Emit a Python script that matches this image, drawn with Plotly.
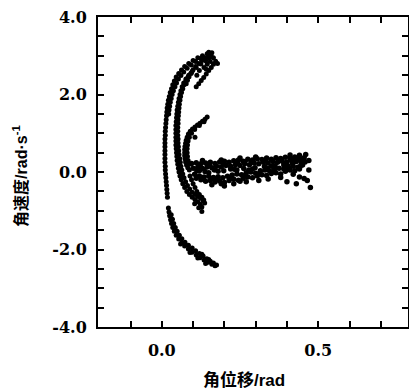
import plotly.graph_objects as go

# ---- data (angular displacement rad, angular velocity rad/s) ----
outer_arc = [
    (0.150, 3.09), (0.145, 3.05), (0.130, 3.00), (0.115, 2.95), (0.100, 2.88), (0.086, 2.80),
    (0.073, 2.72), (0.063, 2.63), (0.054, 2.54), (0.046, 2.45), (0.040, 2.35),
    (0.035, 2.25), (0.031, 2.15), (0.027, 2.05), (0.024, 1.95), (0.021, 1.85),
    (0.019, 1.75), (0.017, 1.65), (0.016, 1.55), (0.015, 1.45), (0.014, 1.35),
    (0.013, 1.25), (0.012, 1.15), (0.011, 1.05), (0.011, 0.95), (0.010, 0.85),
    (0.010, 0.75), (0.010, 0.65), (0.010, 0.55), (0.010, 0.45), (0.010, 0.35),
    (0.010, 0.25), (0.011, 0.15), (0.011, 0.05), (0.012, -0.05), (0.013, -0.15),
    (0.014, -0.25), (0.015, -0.35), (0.016, -0.45), (0.017, -0.55), (0.018, -0.65),
    (0.021, -0.93), (0.023, -1.03), (0.025, -1.13), (0.028, -1.23), (0.031, -1.33),
    (0.035, -1.43), (0.040, -1.53), (0.046, -1.63), (0.054, -1.73), (0.063, -1.83),
    (0.073, -1.91), (0.085, -1.99), (0.097, -2.07), (0.110, -2.14), (0.122, -2.21),
    (0.135, -2.27), (0.148, -2.33), (0.160, -2.38), (0.170, -2.42),
]
outer_arc_inner = [
    (0.125, 2.93), (0.108, 2.85), (0.094, 2.76), (0.081, 2.68), (0.070, 2.58),
    (0.061, 2.49), (0.053, 2.40), (0.047, 2.30), (0.042, 2.20), (0.037, 2.10),
    (0.033, 2.00), (0.030, 1.90), (0.027, 1.80), (0.025, 1.70), (0.023, 1.60),
    (0.022, 1.50), (0.030, -1.10), (0.034, -1.22), (0.038, -1.33), (0.043, -1.43),
    (0.049, -1.53), (0.056, -1.63), (0.064, -1.72), (0.074, -1.81), (0.085, -1.89),
    (0.097, -1.96), (0.108, -2.03), (0.120, -2.10), (0.132, -2.17), (0.144, -2.24),
    (0.155, -2.30), (0.165, -2.35), (0.175, -2.40), (0.090, -2.08), (0.140, -2.36),
    (0.060, -1.86), (0.115, -2.22), (0.150, -2.26), (0.128, -2.12),
]
middle_arc = [
    (0.150, 2.95), (0.140, 2.87), (0.125, 2.79), (0.110, 2.70), (0.097, 2.60),
    (0.086, 2.50), (0.077, 2.40), (0.070, 2.30), (0.065, 2.20), (0.061, 2.10),
    (0.058, 2.00), (0.055, 1.90), (0.053, 1.80), (0.051, 1.70), (0.049, 1.60),
    (0.048, 1.50), (0.047, 1.40), (0.046, 1.30), (0.045, 1.20), (0.045, 1.10),
    (0.045, 1.00), (0.045, 0.90), (0.045, 0.80), (0.045, 0.70), (0.046, 0.60),
    (0.047, 0.50), (0.048, 0.40), (0.049, 0.30), (0.051, 0.20), (0.053, 0.10),
    (0.055, 0.00), (0.058, -0.10), (0.062, -0.20), (0.067, -0.30), (0.073, -0.40),
    (0.080, -0.50), (0.088, -0.58), (0.097, -0.65), (0.106, -0.71), (0.115, -0.77),
    (0.123, -0.83), (0.128, -0.90),
]
middle_arc_inner = [
    (0.094, 2.55), (0.084, 2.45), (0.077, 2.35), (0.071, 2.25), (0.067, 2.15),
    (0.063, 2.05), (0.060, 1.95), (0.058, 1.85), (0.056, 1.75), (0.055, 1.65),
    (0.054, 1.55), (0.053, 1.45), (0.052, 1.35), (0.052, 1.25), (0.051, 1.15),
    (0.051, 1.05), (0.051, 0.95), (0.052, 0.85), (0.052, 0.75), (0.053, 0.65),
    (0.054, 0.55), (0.055, 0.45), (0.057, 0.35), (0.059, 0.25), (0.061, 0.15),
    (0.064, 0.05), (0.067, -0.05), (0.071, -0.15), (0.076, -0.25), (0.082, -0.35),
    (0.089, -0.44), (0.097, -0.52), (0.106, -0.58), (0.115, -0.63), (0.124, -0.68),
    (0.132, -0.74), (0.090, -0.10), (0.095, -0.20), (0.100, -0.30), (0.106, -0.40),
    (0.112, -0.50), (0.120, -0.58), (0.128, -0.65), (0.134, -0.72), (0.137, -0.80),
    (0.118, -0.92), (0.128, -1.02), (0.105, -0.82),
]
top_strands = [
    (0.172, 2.86), (0.165, 2.78), (0.158, 2.70), (0.150, 2.62), (0.142, 2.53),
    (0.134, 2.44), (0.126, 2.36), (0.118, 2.28), (0.110, 2.20), (0.160, 3.08),
    (0.150, 3.02), (0.138, 2.95), (0.128, 2.88), (0.118, 2.80), (0.108, 2.72),
    (0.100, 2.64), (0.093, 2.55), (0.087, 2.46), (0.082, 2.37), (0.078, 2.28),
    (0.165, 2.95), (0.155, 2.85), (0.145, 2.78), (0.135, 2.70), (0.120, 2.62),
    (0.178, 2.80), (0.112, 2.50), (0.142, 2.65), (0.158, 2.98),
]
inner_arc = [
    (0.145, 1.42), (0.138, 1.36), (0.130, 1.31), (0.122, 1.26), (0.114, 1.21),
    (0.106, 1.16), (0.098, 1.11), (0.091, 1.05), (0.085, 0.98), (0.081, 0.90),
    (0.078, 0.82), (0.076, 0.74), (0.074, 0.66), (0.073, 0.58), (0.073, 0.50),
    (0.073, 0.42), (0.074, 0.34), (0.076, 0.26), (0.079, 0.18), (0.083, 0.11),
    (0.088, 0.05), (0.135, 1.30), (0.120, 1.20), (0.105, 1.10), (0.095, 1.00),
    (0.088, 0.90), (0.084, 0.80), (0.082, 0.70), (0.081, 0.60), (0.081, 0.50),
    (0.082, 0.40), (0.084, 0.30), (0.087, 0.20), (0.106, 0.90),
]
branch_upper = [
    (0.095, 0.22), (0.110, 0.24), (0.125, 0.21), (0.140, 0.23), (0.155, 0.25),
    (0.170, 0.22), (0.185, 0.26), (0.200, 0.28), (0.215, 0.25), (0.230, 0.29),
    (0.245, 0.31), (0.260, 0.28), (0.275, 0.33), (0.290, 0.31), (0.305, 0.34),
    (0.320, 0.32), (0.335, 0.36), (0.350, 0.33), (0.365, 0.37), (0.380, 0.35),
    (0.395, 0.38), (0.410, 0.36), (0.425, 0.39), (0.440, 0.35), (0.455, 0.37),
    (0.100, 0.10), (0.115, 0.12), (0.130, 0.09), (0.145, 0.13), (0.160, 0.11),
    (0.175, 0.15), (0.190, 0.13), (0.205, 0.17), (0.220, 0.15), (0.235, 0.19),
    (0.250, 0.17), (0.265, 0.21), (0.280, 0.19), (0.295, 0.23), (0.310, 0.21),
    (0.325, 0.25), (0.340, 0.23), (0.355, 0.27), (0.370, 0.25), (0.385, 0.28),
    (0.400, 0.26), (0.415, 0.29), (0.430, 0.27), (0.445, 0.30), (0.458, 0.26),
    (0.118, 0.17), (0.152, 0.18), (0.197, 0.21), (0.242, 0.24), (0.287, 0.27),
    (0.332, 0.30), (0.377, 0.31), (0.422, 0.33), (0.450, 0.31), (0.265, 0.26),
]
branch_middle = [
    (0.112, 0.03), (0.138, 0.01), (0.168, 0.05), (0.198, 0.03), (0.232, 0.07),
    (0.262, 0.09), (0.298, 0.11), (0.328, 0.14), (0.362, 0.16), (0.392, 0.20),
    (0.418, 0.22), (0.446, 0.23), (0.402, 0.16), (0.338, 0.10), (0.278, 0.05),
]
branch_lower = [
    (0.105, -0.06), (0.120, -0.10), (0.135, -0.13), (0.150, -0.11), (0.165, -0.14),
    (0.180, -0.12), (0.195, -0.15), (0.210, -0.11), (0.225, -0.08), (0.240, -0.05),
    (0.255, -0.07), (0.270, -0.02), (0.285, 0.00), (0.300, -0.03), (0.315, 0.03),
    (0.330, 0.05), (0.345, 0.02), (0.360, 0.07), (0.375, 0.10), (0.390, 0.08),
    (0.405, 0.13), (0.420, 0.15), (0.435, 0.12), (0.450, 0.18),
    (0.110, -0.16), (0.125, -0.20), (0.140, -0.24), (0.155, -0.22), (0.170, -0.26),
    (0.185, -0.23), (0.200, -0.27), (0.215, -0.22), (0.230, -0.19), (0.245, -0.21),
    (0.260, -0.16), (0.275, -0.13), (0.290, -0.15), (0.305, -0.10), (0.320, -0.07),
    (0.335, -0.09), (0.350, -0.04), (0.365, -0.02), (0.380, -0.05), (0.395, 0.02),
    (0.410, 0.05), (0.425, 0.03), (0.440, 0.08),
    (0.128, -0.16), (0.172, -0.19), (0.218, -0.16), (0.262, -0.11), (0.308, -0.06),
    (0.352, 0.00), (0.398, 0.06), (0.442, 0.14), (0.190, -0.30), (0.250, -0.24),
]
branch_scatter = [
    (0.160, -0.33), (0.200, -0.36), (0.230, -0.30), (0.270, -0.25), (0.310, -0.22),
    (0.340, -0.18), (0.380, -0.14), (0.420, -0.06), (0.440, -0.13), (0.455, -0.17),
    (0.465, -0.22), (0.470, 0.05), (0.460, 0.45), (0.440, 0.43), (0.410, 0.44),
    (0.300, 0.39), (0.250, 0.36), (0.190, 0.31), (0.130, 0.30), (0.120, 0.03),
    (0.180, 0.02), (0.240, 0.05), (0.290, 0.08), (0.350, 0.15), (0.390, 0.18),
    (0.470, 0.30), (0.475, -0.40), (0.430, -0.30), (0.400, -0.25), (0.220, 0.08),
    (0.150, -0.02),
]

x_tick_vals = [-0.1, 0.0, 0.1, 0.2, 0.3, 0.4, 0.5, 0.6, 0.7]
x_tick_text = ["", "0.0", "", "", "", "", "0.5", "", ""]
y_tick_vals = [-4.0, -3.5, -3.0, -2.5, -2.0, -1.5, -1.0, -0.5, 0.0,
               0.5, 1.0, 1.5, 2.0, 2.5, 3.0, 3.5, 4.0]
y_tick_text = ["-4.0", "", "", "", "-2.0", "", "", "", "0.0",
               "", "", "", "2.0", "", "", "", "4.0"]

x_title = "角位移/rad"
y_title = "角速度/rad·s<sup>-1</sup>"

fig = go.Figure()
arc_groups = [outer_arc, outer_arc_inner, middle_arc, middle_arc_inner, top_strands, inner_arc]
branch_groups = [branch_upper, branch_middle, branch_lower, branch_scatter]
for g in arc_groups + branch_groups:
    xs = [p[0] for p in g]
    ys = [p[1] for p in g]
    size = 5 if g in arc_groups else 5.5
    fig.add_trace(go.Scatter(
        x=xs, y=ys, mode="markers",
        marker=dict(color="black", size=size, line=dict(width=0)),
        showlegend=False, hoverinfo="skip",
    ))

tick_font = dict(family="DejaVu Serif", size=16, color="black", weight="bold")
axis_common = dict(
    showgrid=False, zeroline=False, showline=True, linecolor="black", linewidth=2,
    mirror="ticks", ticks="inside", ticklen=6, tickwidth=1.5, tickcolor="black",
    tickfont=tick_font,
)
fig.update_xaxes(range=[-0.204, 0.787], tickmode="array", tickvals=x_tick_vals,
                 ticktext=x_tick_text, ticklabelstandoff=8, **axis_common)
fig.update_yaxes(range=[-4.0, 4.0], tickmode="array", tickvals=y_tick_vals,
                 ticktext=y_tick_text, ticklabelstandoff=6, **axis_common)

title_family = "Liberation Sans Narrow, Liberation Sans, Noto Sans CJK SC"
fig.add_annotation(text=x_title, xref="paper", yref="paper", x=0.471, y=-0.17,
                   xanchor="center", yanchor="middle", showarrow=False,
                   font=dict(family=title_family, size=17, color="black", weight="bold"))
fig.add_annotation(text=y_title, xref="paper", yref="paper", x=-0.252, y=0.487,
                   xanchor="center", yanchor="middle", showarrow=False, textangle=-90,
                   font=dict(family=title_family, size=16, color="black", weight="bold"))

fig.update_layout(
    width=409, height=390, autosize=False,
    margin=dict(l=98, r=1, t=17, b=63, autoexpand=False),
    paper_bgcolor="white", plot_bgcolor="white",
)
fig.write_html("out.html", config={"displayModeBar": False},
               post_script="document.body.style.margin='0';document.body.style.overflow='hidden';")
